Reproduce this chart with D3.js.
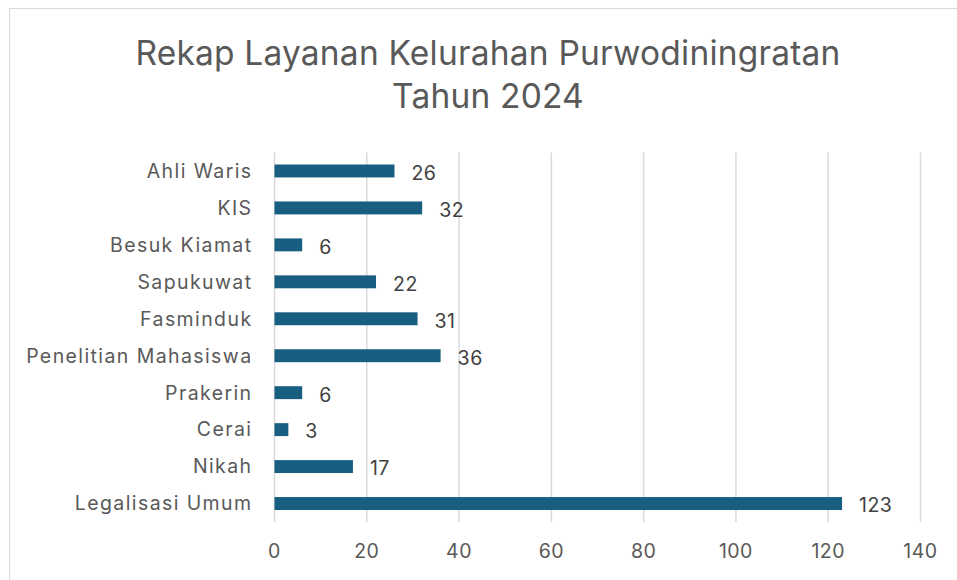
<!DOCTYPE html>
<html>
<head>
<meta charset="utf-8">
<script src="https://cdn.jsdelivr.net/npm/d3@7"></script>
<style>
  body { margin: 0; background: #fff; }
  svg { display: block; font-family: "Inter", "Noto Sans", sans-serif; }
</style>
</head>
<body>
<div id="container"></div>
<script>
const categories = ["Ahli Waris", "KIS", "Besuk Kiamat", "Sapukuwat", "Fasminduk",
  "Penelitian Mahasiswa", "Prakerin", "Cerai", "Nikah", "Legalisasi Umum"];
const values = [26, 32, 6, 22, 31, 36, 6, 3, 17, 123];
const xTicks = [0, 20, 40, 60, 80, 100, 120, 140];
const titleLines = ["Rekap Layanan Kelurahan Purwodiningratan", "Tahun 2024"];

const width = 957, height = 580;
const margin = {top: 152.5, right: 36.5, bottom: 58, left: 274.5};

const svg = d3.select("#container").append("svg")
    .attr("width", width)
    .attr("height", height);

// chart frame
svg.append("rect")
    .attr("x", 9.5).attr("y", 8.5)
    .attr("width", width + 20).attr("height", height + 20)
    .attr("fill", "#fff")
    .attr("stroke", "#d9d9d9");

svg.append("g")
    .attr("fill", "#595959")
    .attr("font-size", 33.5)
    .attr("letter-spacing", 0.2)
    .attr("text-anchor", "middle")
  .selectAll("text")
  .data(titleLines)
  .join("text")
    .attr("x", 488)
    .attr("y", (d, i) => 64.5 + i * 43)
    .text(d => d);

const x = d3.scaleLinear()
    .domain([0, 140])
    .range([margin.left, width - margin.right]);

const y = d3.scaleBand()
    .domain(categories)
    .range([margin.top, height - margin.bottom])
    .paddingInner(0.65)
    .paddingOuter(0.325);

// gridlines
svg.append("g")
  .selectAll("line")
  .data(xTicks)
  .join("line")
    .attr("x1", d => x(d)).attr("x2", d => x(d))
    .attr("y1", margin.top).attr("y2", height - margin.bottom)
    .attr("stroke", "#d9d9d9")
    .attr("stroke-width", 1.5);

// x tick labels
svg.append("g")
    .attr("fill", "#595959")
    .attr("font-size", 19.5)
    .attr("letter-spacing", 0.5)
    .attr("text-anchor", "middle")
  .selectAll("text")
  .data(xTicks)
  .join("text")
    .attr("x", d => x(d))
    .attr("y", 551)
    .attr("dy", "0.35em")
    .text(d => d);

// category labels
svg.append("g")
    .attr("fill", "#595959")
    .attr("font-size", 19.5)
    .attr("letter-spacing", 1.4)
    .attr("text-anchor", "end")
  .selectAll("text")
  .data(categories)
  .join("text")
    .attr("x", margin.left - 22)
    .attr("y", d => y(d) + y.bandwidth() / 2)
    .attr("dy", "0.35em")
    .text(d => d);

// bars
svg.append("g")
    .attr("fill", "#175e80")
  .selectAll("rect")
  .data(values)
  .join("rect")
    .attr("x", x(0))
    .attr("y", (d, i) => y(categories[i]))
    .attr("width", d => x(d) - x(0))
    .attr("height", y.bandwidth());

// value labels
svg.append("g")
    .attr("fill", "#404040")
    .attr("font-size", 19.5)
    .attr("letter-spacing", 0.5)
  .selectAll("text")
  .data(values)
  .join("text")
    .attr("x", d => x(d) + 17)
    .attr("y", (d, i) => y(categories[i]) + y.bandwidth() / 2 + 2)
    .attr("dy", "0.35em")
    .text(d => d);
</script>
</body>
</html>
